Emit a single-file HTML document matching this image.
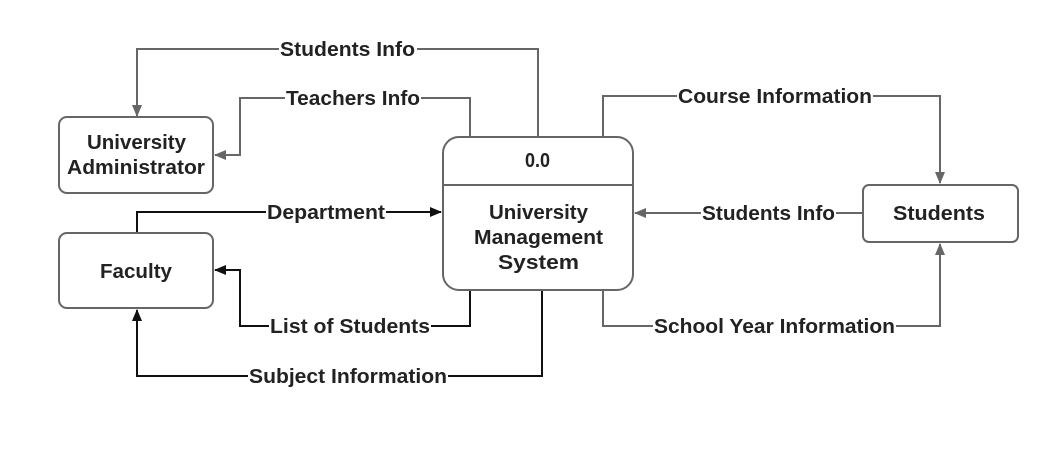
<!DOCTYPE html>
<html><head><meta charset="utf-8"><style>
body{margin:0;background:#fff;}
svg text{font-family:"Liberation Sans",sans-serif;font-weight:bold;}
</style></head><body>
<svg width="1040" height="458" viewBox="0 0 1040 458" xmlns="http://www.w3.org/2000/svg">
<defs>
<marker id="ag" markerWidth="12" markerHeight="10" refX="11" refY="5" orient="auto" markerUnits="userSpaceOnUse"><path d="M0,0 L12,5 L0,10 z" fill="#666"/></marker>
<marker id="ab" markerWidth="12" markerHeight="10" refX="11" refY="5" orient="auto" markerUnits="userSpaceOnUse"><path d="M0,0 L12,5 L0,10 z" fill="#111"/></marker>
</defs>
<g fill="none" stroke-width="2">
<path d="M538,137 V49 H137 V116" stroke="#666" marker-end="url(#ag)"/>
<path d="M470,137 V98 H240 V155 H215" stroke="#666" marker-end="url(#ag)"/>
<path d="M137,233 V212 H441" stroke="#111" marker-end="url(#ab)"/>
<path d="M470,290 V326 H240 V270 H215" stroke="#111" marker-end="url(#ab)"/>
<path d="M542,290 V376 H137 V310" stroke="#111" marker-end="url(#ab)"/>
<path d="M603,137 V96 H940 V183" stroke="#666" marker-end="url(#ag)"/>
<path d="M863,213 H635" stroke="#666" marker-end="url(#ag)"/>
<path d="M603,290 V326 H940 V244" stroke="#666" marker-end="url(#ag)"/>
</g>
<g fill="#fff" stroke="#666" stroke-width="2">
<rect x="59" y="117" width="154" height="76" rx="8"/>
<rect x="59" y="233" width="154" height="75" rx="8"/>
<rect x="443" y="137" width="190" height="153" rx="16"/>
<rect x="863" y="185" width="155" height="57" rx="6"/>
</g>
<line x1="443" y1="185" x2="633" y2="185" stroke="#666" stroke-width="2"/>
<g font-size="20" fill="#222">
<text x="87" y="149" textLength="99" lengthAdjust="spacingAndGlyphs">University</text>
<text x="67" y="174" textLength="138" lengthAdjust="spacingAndGlyphs">Administrator</text>
<text x="100" y="278" textLength="72" lengthAdjust="spacingAndGlyphs">Faculty</text>
<text x="525" y="167" textLength="25" lengthAdjust="spacingAndGlyphs">0.0</text>
<text x="489" y="219" textLength="99" lengthAdjust="spacingAndGlyphs">University</text>
<text x="474" y="244" textLength="129" lengthAdjust="spacingAndGlyphs">Management</text>
<text x="498" y="269" textLength="81" lengthAdjust="spacingAndGlyphs">System</text>
<text x="893" y="220" textLength="92" lengthAdjust="spacingAndGlyphs">Students</text>
</g>
<g font-size="20" fill="#222">
<rect x="279" y="38" width="138" height="22" fill="#fff"/><text x="280" y="56" textLength="135" lengthAdjust="spacingAndGlyphs">Students Info</text>
<rect x="285" y="87" width="136" height="22" fill="#fff"/><text x="286" y="105" textLength="134" lengthAdjust="spacingAndGlyphs">Teachers Info</text>
<rect x="266" y="201" width="120" height="22" fill="#fff"/><text x="267" y="219" textLength="118" lengthAdjust="spacingAndGlyphs">Department</text>
<rect x="269" y="315" width="162" height="22" fill="#fff"/><text x="270" y="333" textLength="160" lengthAdjust="spacingAndGlyphs">List of Students</text>
<rect x="248" y="365" width="200" height="22" fill="#fff"/><text x="249" y="383" textLength="198" lengthAdjust="spacingAndGlyphs">Subject Information</text>
<rect x="677" y="85" width="196" height="22" fill="#fff"/><text x="678" y="103" textLength="194" lengthAdjust="spacingAndGlyphs">Course Information</text>
<rect x="701" y="202" width="135" height="22" fill="#fff"/><text x="702" y="220" textLength="133" lengthAdjust="spacingAndGlyphs">Students Info</text>
<rect x="653" y="315" width="243" height="22" fill="#fff"/><text x="654" y="333" textLength="241" lengthAdjust="spacingAndGlyphs">School Year Information</text>
</g>
</svg>
</body></html>
